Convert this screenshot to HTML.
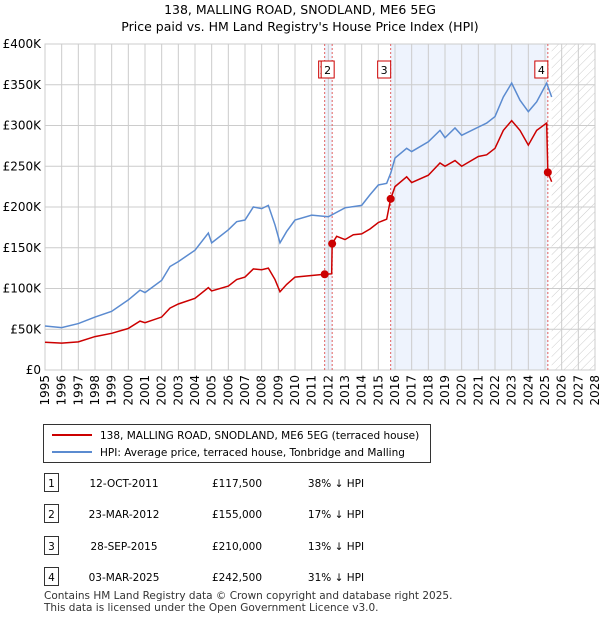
<!DOCTYPE html>
<html><head><meta charset="utf-8"><style>
body{margin:0;background:#fff;font-family:"Liberation Sans","DejaVu Sans",sans-serif;}
svg text{font-family:"DejaVu Sans","Liberation Sans",sans-serif;}
</style></head><body>
<svg id="c" width="600" height="620" xmlns="http://www.w3.org/2000/svg">
<defs><pattern id="hatch" width="6" height="6" patternUnits="userSpaceOnUse" patternTransform="rotate(45)"><line x1="0" y1="0" x2="0" y2="6" stroke="#ccc" stroke-width="1"/></pattern></defs>
<text x="300" y="14" text-anchor="middle" font-size="12.5">138, MALLING ROAD, SNODLAND, ME6 5EG</text>
<text x="300" y="31" text-anchor="middle" font-size="12.5">Price paid vs. HM Land Registry's House Price Index (HPI)</text>
<g id="plot"></g>
<g>
<rect x="43.5" y="424.5" width="387" height="38" fill="#fff" stroke="#333"/>
<line x1="52" y1="435" x2="92" y2="435" stroke="#cc0000" stroke-width="2"/>
<text x="100" y="439" font-size="10.5">138, MALLING ROAD, SNODLAND, ME6 5EG (terraced house)</text>
<line x1="52" y1="452" x2="92" y2="452" stroke="#5b8bd0" stroke-width="2"/>
<text x="100" y="456" font-size="10.5">HPI: Average price, terraced house, Tonbridge and Malling</text>
</g>
<g id="tbl" font-size="10.5"></g>
<text x="44" y="599" font-size="10.5" fill="#333">Contains HM Land Registry data © Crown copyright and database right 2025.</text>
<text x="44" y="611" font-size="10.5" fill="#333">This data is licensed under the Open Government Licence v3.0.</text>
</svg>
<script>
const hpiYears=[1995,1996,1997,1998,1999,2000,2000.7,2001,2002,2002.5,2003,2004,2004.8,2005,2006,2006.5,2007,2007.5,2008,2008.4,2008.8,2009.1,2009.5,2010,2011,2012,2013,2014,2014.5,2015,2015.5,2015.75,2016,2016.7,2017,2018,2018.7,2019,2019.6,2020,2021,2021.5,2022,2022.5,2023,2023.5,2024,2024.5,2025.1,2025.4];
const hpiValues=[54,52,57,65,72,86,98,95,110,127,133,147,168,156,172,182,184,200,198,202,178,156,170,184,190,188,199,202,215,227,229,242,260,272,268,280,294,285,297,288,298,303,311,335,352,331,317,329,352,335];
const redYears=[1995,1996,1997,1998,1999,2000,2000.7,2001,2002,2002.5,2003,2004,2004.8,2005,2006,2006.5,2007,2007.5,2008,2008.4,2008.8,2009.1,2009.5,2010,2011,2011.78,2012.2,2012.23,2012.5,2013,2013.5,2014,2014.5,2015,2015.5,2015.74,2016,2016.7,2017,2018,2018.7,2019,2019.6,2020,2021,2021.5,2022,2022.5,2023,2023.5,2024,2024.5,2025.1,2025.17,2025.4];
const redValues=[34,33,34.5,41,45,51,60,58,65,76,81,88,101,97,103,111,114,124,123,125,111,96,105,114,116,117.5,118,155,164,160,166,167,173,181,185,210,225,237,230,239,254,250,257,250,262,264,272,294,306,294,276,294,303,242.5,231];
const saleLabels=["1","2","3","4"];
const saleYears=[2011.78,2012.23,2015.74,2025.17];
const salePrices=[117.5,155,210,242.5];
const saleDates=["12-OCT-2011","23-MAR-2012","28-SEP-2015","03-MAR-2025"];
const salePriceText=["£117,500","£155,000","£210,000","£242,500"];
const salePct=["38% ↓ HPI","17% ↓ HPI","13% ↓ HPI","31% ↓ HPI"];
const yTicks=[0,50,100,150,200,250,300,350,400];
const yTickLabels=["£0","£50K","£100K","£150K","£200K","£250K","£300K","£350K","£400K"];
const xTicks=[1995,1996,1997,1998,1999,2000,2001,2002,2003,2004,2005,2006,2007,2008,2009,2010,2011,2012,2013,2014,2015,2016,2017,2018,2019,2020,2021,2022,2023,2024,2025,2026,2027,2028];

const NS="http://www.w3.org/2000/svg";
const L=45,R=595,T=44,B=370;
const X=y=>L+(y-1995)*(R-L)/33;
const Y=v=>B-v*(B-T)/400;
const g=document.getElementById('plot');
function mk(tag,attrs,parent){const e=document.createElementNS(NS,tag);for(const k in attrs)e.setAttribute(k,attrs[k]);(parent||g).appendChild(e);return e;}

let e;
e=mk('rect',{x:X(2015.74),y:T,width:X(2025.17)-X(2015.74),height:B-T,fill:'#eef3fd'});


e=mk('rect',{x:X(2011.78),y:T,width:X(2012.23)-X(2011.78),height:B-T,fill:'#eef3fd'});


e=mk('rect',{x:X(2025.4),y:T,width:R-X(2025.4),height:B-T,fill:'url(#hatch)'});



yTicks.forEach((v,i)=>{
  e=mk('line',{x1:L,x2:R,y1:Y(v),y2:Y(v),stroke:'#ccc','stroke-width':1});
  
  
  e=mk('text',{x:L-4,y:Y(v)+4,'text-anchor':'end','font-size':12});
  e.textContent=yTickLabels[i];
  
  
});
xTicks.forEach(yr=>{
  e=mk('line',{x1:X(yr),x2:X(yr),y1:T,y2:B,stroke:'#ccc','stroke-width':1});
  
  
  e=mk('text',{x:0,y:0,'text-anchor':'end','font-size':12,transform:`translate(${X(yr)+4},375) rotate(-90)`});
  e.textContent=yr;
  
  
});
e=mk('rect',{x:L,y:T,width:R-L,height:B-T,fill:'none',stroke:'#ccc'});



saleYears.forEach((yr,i)=>{
  e=mk('line',{x1:X(yr),x2:X(yr),y1:T,y2:B,stroke:'#e06060','stroke-width':1,'stroke-dasharray':'2,2'});
  
  
});

e=mk('polyline',{points:hpiYears.map((yr,i)=>X(yr)+','+Y(hpiValues[i])).join(' '),fill:'none',stroke:'#5b8bd0','stroke-width':1.5});


e=mk('polyline',{points:redYears.map((yr,i)=>X(yr)+','+Y(redValues[i])).join(' '),fill:'none',stroke:'#cc0000','stroke-width':1.5});



saleYears.forEach((yr,i)=>{
  e=mk('circle',{cx:X(yr),cy:Y(salePrices[i]),r:4,fill:'#cc0000'});
  
  
  const bx=X(yr)-(i===0?8:(i===1?0:13)) ;
  const w=i===0?8:13;
  e=mk('rect',{x:(i===0?X(yr)-6:X(yr)-13),y:61,width:(i===0?8:13),height:17,fill:'#fff',stroke:'#cc0000'});
  if(i===1){e.setAttribute('x',X(yr)-13+2);}
  
  
  e=mk('text',{x:(i===0?X(yr)-2:X(yr)-6.5+(i===1?2:0)),y:74,'text-anchor':'middle','font-size':11});
  e.textContent=saleLabels[i];
  
  
});

const t=document.getElementById('tbl');
const rowY=[483,514,546,577];
saleLabels.forEach((lab,i)=>{
  const y=rowY[i];
  e=mk('rect',{x:44.5,y:y-9.5,width:14,height:18,fill:'#fff',stroke:'#333'},t);
  
  
  e=mk('text',{x:51.5,y:y+4,'text-anchor':'middle'},t);e.textContent=lab;
  
  
  e=mk('text',{x:124,y:y+4,'text-anchor':'middle'},t);e.textContent=saleDates[i];
  
  
  e=mk('text',{x:237,y:y+4,'text-anchor':'middle'},t);e.textContent=salePriceText[i];
  
  
  e=mk('text',{x:336,y:y+4,'text-anchor':'middle'},t);e.textContent=salePct[i];
  
  
});
</script>
</body></html>
